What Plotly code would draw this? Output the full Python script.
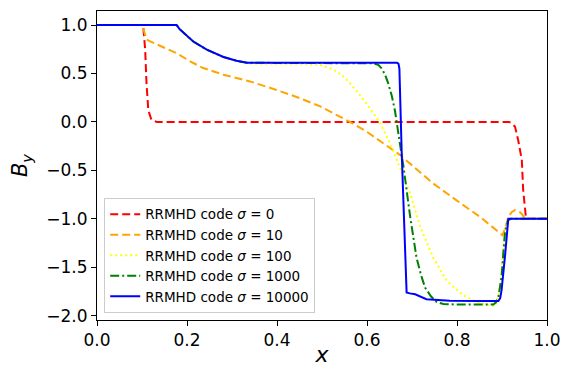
import plotly.graph_objects as go

# B_y profiles across x for the RRMHD code at several magnetisations
red_x = [0.0, 0.098, 0.103, 0.107, 0.110, 0.114, 0.121, 0.133, 0.50, 0.915, 0.921, 0.929,
         0.936, 0.944, 0.947, 0.953, 0.96, 1.0]
red_y = [1.0, 1.0, 0.97, 0.75, 0.40, 0.12, 0.02, 0.0, 0.0, 0.0, -0.01, -0.05,
         -0.19, -0.39, -0.70, -0.98, -1.0, -1.0]

orange_x = [0.0, 0.098, 0.104, 0.110, 0.133, 0.177, 0.207, 0.236, 0.281, 0.34, 0.399, 0.451,
            0.496, 0.562, 0.599, 0.636, 0.673, 0.703, 0.747, 0.799, 0.851, 0.896, 0.901,
            0.907, 0.914, 0.922, 0.929, 0.937, 0.944, 0.951, 0.96, 1.0]
orange_y = [1.0, 1.0, 0.95, 0.85, 0.80, 0.71, 0.625, 0.556, 0.487, 0.418, 0.33, 0.245,
            0.16, 0.0, -0.10, -0.22, -0.34, -0.46, -0.635, -0.81, -0.98, -1.15, -1.17,
            -1.10, -0.98, -0.93, -0.91, -0.92, -0.95, -1.0, -1.0, -1.0]

yellow_x = [0.0, 0.177, 0.183, 0.192, 0.214, 0.244, 0.281, 0.31, 0.333, 0.36, 0.42, 0.451,
            0.496, 0.525, 0.545, 0.562, 0.58, 0.599, 0.629, 0.651, 0.666, 0.696, 0.718,
            0.747, 0.777, 0.814, 0.844, 0.865, 0.885, 0.892, 0.899, 0.907, 0.914, 0.92, 1.0]
yellow_y = [1.0, 1.0, 0.96, 0.915, 0.825, 0.74, 0.665, 0.628, 0.605, 0.60, 0.605, 0.60,
            0.59, 0.54, 0.48, 0.40, 0.30, 0.19, -0.01, -0.22, -0.39, -0.74, -1.08,
            -1.40, -1.64, -1.79, -1.86, -1.885, -1.9, -1.8, -1.55, -1.12, -1.01, -1.0, -1.0]

green_x = [0.0, 0.177, 0.183, 0.192, 0.214, 0.244, 0.281, 0.31, 0.333, 0.36, 0.5, 0.60,
           0.614, 0.625, 0.632, 0.640, 0.647, 0.655, 0.662, 0.673, 0.681, 0.696, 0.71,
           0.72, 0.729, 0.742, 0.755, 0.77, 0.799, 0.881, 0.887, 0.892, 0.899, 0.903,
           0.907, 0.914, 0.92, 1.0]
green_y = [1.0, 1.0, 0.96, 0.92, 0.83, 0.746, 0.67, 0.632, 0.61, 0.61, 0.61, 0.61,
           0.605, 0.59, 0.556, 0.49, 0.40, 0.27, 0.12, -0.22, -0.46, -0.98, -1.40,
           -1.58, -1.71, -1.80, -1.86, -1.88, -1.885, -1.885, -1.86, -1.81, -1.60, -1.35,
           -1.12, -1.015, -1.0, -1.0]

blue_x = [0.0, 0.177, 0.183, 0.192, 0.214, 0.244, 0.281, 0.31, 0.333, 0.36, 0.5, 0.667,
          0.670, 0.672, 0.677, 0.683, 0.688, 0.695, 0.707, 0.732, 0.784, 0.85, 0.892,
          0.896, 0.899, 0.907, 0.914, 0.92, 1.0]
blue_y = [1.0, 1.0, 0.96, 0.92, 0.83, 0.746, 0.67, 0.632, 0.61, 0.61, 0.61, 0.61,
          0.60, 0.55, -0.30, -1.20, -1.76, -1.77, -1.78, -1.83, -1.845, -1.85, -1.85,
          -1.82, -1.74, -1.37, -1.0, -1.0, -1.0]

series = [
    ("RRMHD code <i>σ</i> = 0", red_x, red_y, "red", "8px,4px"),
    ("RRMHD code <i>σ</i> = 10", orange_x, orange_y, "orange", "8px,4px"),
    ("RRMHD code <i>σ</i> = 100", yellow_x, yellow_y, "yellow", "2px,3px"),
    ("RRMHD code <i>σ</i> = 1000", green_x, green_y, "green", "9px,3px,2px,3px"),
    ("RRMHD code <i>σ</i> = 10000", blue_x, blue_y, "blue", "solid"),
]

x_ticks = [0.0, 0.2, 0.4, 0.6, 0.8, 1.0]
y_ticks = [-2.0, -1.5, -1.0, -0.5, 0.0, 0.5, 1.0]

fig = go.Figure()
for name, xs, ys, color, dash in series:
    fig.add_trace(go.Scatter(x=xs, y=ys, mode="lines", name=name,
                             line=dict(color=color, width=2, dash=dash)))

font_family = "DejaVu Sans"
axis_common = dict(showline=True, mirror=True, linecolor="black", linewidth=1,
                   ticks="outside", ticklen=5, tickwidth=1, tickcolor="black",
                   showgrid=False, zeroline=False, automargin=False,
                   tickfont=dict(family=font_family, size=17, color="black"))

fig.update_layout(
    width=563, height=367,
    margin=dict(l=97, r=16, t=11, b=47),
    paper_bgcolor="white", plot_bgcolor="white",
    font=dict(family=font_family, color="black"),
    xaxis=dict(range=[0, 1], tickvals=x_ticks, tickformat=".1f",
               title=dict(text="<i>x</i>", font=dict(size=22), standoff=8),
               **axis_common),
    yaxis=dict(range=[-2.045, 1.145], tickvals=y_ticks, tickformat=".1f",
               title=dict(text="<i>B</i><sub><i>y</i></sub>", font=dict(size=21), standoff=12),
               **axis_common),
    legend=dict(x=0.016, y=0.023, xanchor="left", yanchor="bottom",
                bgcolor="rgba(255,255,255,0.8)", bordercolor="#cccccc", borderwidth=1,
                font=dict(family=font_family, size=13.5), itemwidth=30,
                tracegroupgap=0),
    showlegend=True,
)

fig.write_html("out.html")
